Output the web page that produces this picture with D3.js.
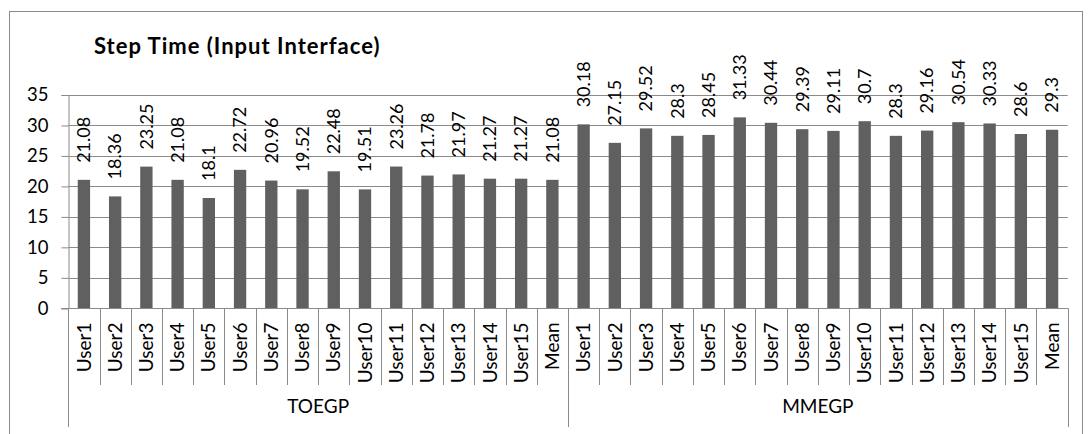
<!DOCTYPE html>
<html>
<head>
<meta charset="utf-8">
<script src="https://cdn.jsdelivr.net/npm/d3@7"></script>
<style>
  html, body { margin: 0; padding: 0; background: #fff; }
  svg { display: block; }
  text { font-family: Lato, "Open Sans", sans-serif; fill: #000; }
</style>
</head>
<body>
<svg id="chart" width="1091" height="434"></svg>
<script>
// Step time per user for the two input interfaces
const groups = ["TOEGP", "MMEGP"];
const users = ["User1", "User2", "User3", "User4", "User5", "User6", "User7", "User8",
               "User9", "User10", "User11", "User12", "User13", "User14", "User15", "Mean"];
const toegpValues = [21.08, 18.36, 23.25, 21.08, 18.1, 22.72, 20.96, 19.52,
                     22.48, 19.51, 23.26, 21.78, 21.97, 21.27, 21.27, 21.08];
const mmegpValues = [30.18, 27.15, 29.52, 28.3, 28.45, 31.33, 30.44, 29.39,
                     29.11, 30.7, 28.3, 29.16, 30.54, 30.33, 28.6, 29.3];
const yTicks = [0, 5, 10, 15, 20, 25, 30, 35];
const titleText = "Step Time (Input Interface)";

const seriesByGroup = [toegpValues, mmegpValues];
const rows = [];
groups.forEach((g, gi) => {
  users.forEach((u, ui) => {
    rows.push({ key: g + "|" + u, group: g, user: u, value: seriesByGroup[gi][ui] });
  });
});

const svg = d3.select("#chart");
const plotLeft = 68.3, plotRight = 1067.7, plotTop = 95, plotBottom = 308.3;
const gridColor = "#8a8a8a";

// outer chart frame
svg.append("rect")
  .attr("x", 9.5).attr("y", 11.5)
  .attr("width", 1073).attr("height", 440)
  .attr("fill", "none").attr("stroke", gridColor).attr("stroke-width", 1);

svg.append("text")
  .attr("x", 94).attr("y", 53.5)
  .attr("font-size", 22).attr("font-weight", "bold")
  .attr("letter-spacing", 1)
  .text(titleText);

const x = d3.scaleBand().domain(rows.map(d => d.key)).range([plotLeft, plotRight]).padding(0);
const y = d3.scaleLinear().domain([0, 35]).range([plotBottom, plotTop]);

// horizontal gridlines
svg.append("g").selectAll("line").data(yTicks).join("line")
  .attr("x1", plotLeft).attr("x2", plotRight)
  .attr("y1", d => Math.round(y(d)) + 0.5).attr("y2", d => Math.round(y(d)) + 0.5)
  .attr("stroke", gridColor).attr("stroke-width", 1);

// value axis
const yAxis = svg.append("g").attr("transform", `translate(${Math.round(plotLeft) + 0.5},0)`)
  .call(d3.axisLeft(y).tickValues(yTicks).tickSize(7).tickPadding(13));
yAxis.select(".domain").attr("stroke", gridColor);
yAxis.selectAll(".tick line").attr("stroke", gridColor);
yAxis.selectAll(".tick text").attr("font-size", 18.5).attr("font-family", "Lato").attr("fill", "#000");

// bars
const barW = x.bandwidth() * 0.395;
svg.append("g").selectAll("rect").data(rows).join("rect")
  .attr("x", d => x(d.key) + (x.bandwidth() - barW) / 2)
  .attr("y", d => y(d.value))
  .attr("width", barW)
  .attr("height", d => y(0) - y(d.value))
  .attr("fill", "#606060");

// value labels
svg.append("g").selectAll("text").data(rows).join("text")
  .attr("transform", d => `translate(${x(d.key) + x.bandwidth() / 2},${y(d.value) - 17}) rotate(-90)`)
  .attr("dy", "0.35em")
  .attr("font-size", 18)
  .text(d => d.value);

// category axis: user labels
const xAxis = svg.append("g").attr("transform", `translate(0,${Math.round(plotBottom) + 0.5})`)
  .call(d3.axisBottom(x).tickSize(0).tickFormat(k => k.split("|")[1]));
xAxis.select(".domain").remove();
xAxis.selectAll(".tick text")
  .attr("transform", "rotate(-90)")
  .attr("text-anchor", "end")
  .attr("x", -14).attr("y", 0).attr("dy", "0.35em")
  .attr("font-size", 19).attr("font-family", "Lato").attr("fill", "#000");

// baseline
svg.append("line")
  .attr("x1", Math.round(plotLeft) - 7).attr("x2", plotRight)
  .attr("y1", Math.round(plotBottom) + 0.5).attr("y2", Math.round(plotBottom) + 0.5)
  .attr("stroke", gridColor);

// category dividers and group brackets
const boundaries = d3.range(rows.length + 1).map(i => i === rows.length ? plotRight : x(rows[i].key));
svg.append("g").selectAll("line").data(boundaries).join("line")
  .attr("x1", d => Math.round(d) + 0.5).attr("x2", d => Math.round(d) + 0.5)
  .attr("y1", plotBottom)
  .attr("y2", (d, i) => (i % users.length === 0) ? 427 : 385)
  .attr("stroke", gridColor);

// group labels
svg.append("g").selectAll("text").data(groups).join("text")
  .attr("x", g => {
    const first = x(g + "|" + users[0]);
    const last = x(g + "|" + users[users.length - 1]) + x.bandwidth();
    return (first + last) / 2;
  })
  .attr("y", 413)
  .attr("text-anchor", "middle")
  .attr("font-size", 19)
  .text(g => g);
</script>
</body>
</html>
